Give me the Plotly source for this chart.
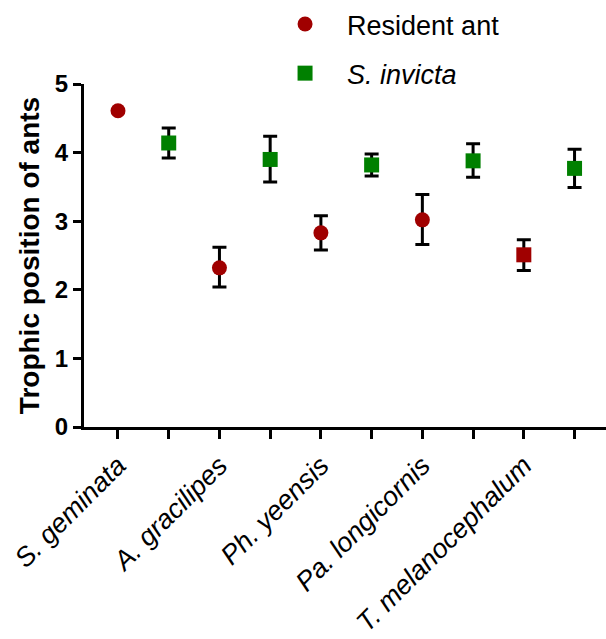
import plotly.graph_objects as go

# Data
species = ["S. geminata", "A. gracilipes", "Ph. yeensis", "Pa. longicornis", "T. melanocephalum"]
resident_mean = [4.61, 2.32, 2.83, 3.02, 2.51]
resident_upper = [4.61, 2.62, 3.08, 3.39, 2.73]
resident_lower = [4.61, 2.04, 2.58, 2.66, 2.28]
resident_symbol = ["circle", "circle", "circle", "circle", "square"]
invicta_mean = [4.14, 3.90, 3.82, 3.88, 3.77]
invicta_upper = [4.36, 4.24, 3.98, 4.13, 4.05]
invicta_lower = [3.92, 3.57, 3.66, 3.64, 3.49]

res_x = [2 * i for i in range(len(species))]
inv_x = [2 * i + 1 for i in range(len(species))]
tick_vals = list(range(2 * len(species)))
tick_text = []
for i in range(len(species)):
    tick_text += [species[i], ""]

RED = "#A00000"
GREEN = "#008000"
FONT = "Liberation Sans, Arial, sans-serif"

fig = go.Figure()
fig.add_trace(go.Scatter(
    x=res_x, y=resident_mean, mode="markers", name="Resident ant",
    legendgroup="a",
    marker=dict(color=RED, size=15, symbol=resident_symbol),
    error_y=dict(type="data", symmetric=False,
                 array=[u - m for u, m in zip(resident_upper, resident_mean)],
                 arrayminus=[m - l for m, l in zip(resident_mean, resident_lower)],
                 color="black", thickness=3, width=7),
    cliponaxis=False,
))
fig.add_trace(go.Scatter(
    x=inv_x, y=invicta_mean, mode="markers", name="<i>S. invicta</i>",
    legendgroup="b",
    marker=dict(color=GREEN, size=15, symbol="square"),
    error_y=dict(type="data", symmetric=False,
                 array=[u - m for u, m in zip(invicta_upper, invicta_mean)],
                 arrayminus=[m - l for m, l in zip(invicta_mean, invicta_lower)],
                 color="black", thickness=3, width=7),
    cliponaxis=False,
))

fig.update_layout(
    width=606, height=639,
    margin=dict(l=84, r=0, t=76, b=212),
    plot_bgcolor="white", paper_bgcolor="white",
    font=dict(family=FONT, color="black"),
    showlegend=True,
    legend=dict(x=0.343, y=1.245, xanchor="left", yanchor="top",
                font=dict(size=27, family=FONT, color="black"),
                itemwidth=74,
                tracegroupgap=11, bgcolor="rgba(0,0,0,0)"),
    xaxis=dict(range=[-0.67, 9.62], tickmode="array", tickvals=tick_vals,
               ticktext=tick_text, tickangle=-45,
               tickfont=dict(size=27, family=FONT, style="italic", color="black"),
               showline=True, linewidth=3, linecolor="black",
               ticks="outside", ticklen=9, tickwidth=3, tickcolor="black",
               showgrid=False, zeroline=False, automargin=False),
    yaxis=dict(range=[0, 5], tickvals=[0, 1, 2, 3, 4, 5],
               tickfont=dict(size=24, family=FONT, weight="bold", color="black"),
               showline=True, linewidth=3, linecolor="black",
               ticks="outside", ticklen=8, tickwidth=3, tickcolor="black",
               showgrid=False, zeroline=False, automargin=False,
               title=dict(text="<b>Trophic position of ants</b>",
                          font=dict(size=28, family=FONT, color="black"),
                          standoff=8)),
)

fig.write_html("out.html", config={"displayModeBar": False},
               post_script="document.body.style.margin='0';document.body.style.overflow='hidden';")
